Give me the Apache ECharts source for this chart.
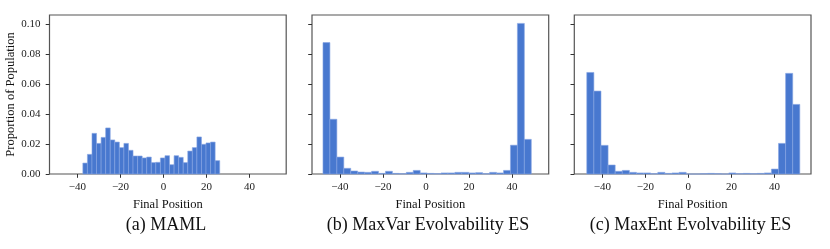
<!DOCTYPE html>
<html><head><meta charset="utf-8">
<script src="https://cdn.jsdelivr.net/npm/echarts@6/dist/echarts.min.js"></script>
<style>html,body{margin:0;padding:0;background:#fff}#c{width:830px;height:249px}</style>
</head><body><div id="c"></div>
<script>
// ---- data ----
const xTicks = [-40, -20, 0, 20, 40];
const yTicks = [0, 0.02, 0.04, 0.06, 0.08, 0.10];
const captions = ['(a) MAML', '(b) MaxVar Evolvability ES', '(c) MaxEnt Evolvability ES'];
// histogram bins: first edge and bin width (x units), 30 bins each
const mamlBinStart = -37.5, mamlBinWidth = 2.12;
const mamlValues = [0.0073,0.0131,0.0271,0.0204,0.0244,0.0307,0.0227,0.0213,0.0176,0.0204,
  0.0158,0.0120,0.0120,0.0107,0.0113,0.0076,0.0078,0.0107,0.0122,0.0062,
  0.0122,0.0111,0.0076,0.0153,0.0176,0.0247,0.0198,0.0207,0.0213,0.0089];
const maxVarBinStart = -47.9, maxVarBinWidth = 3.227;
const maxVarValues = [0.0876,0.0365,0.0113,0.0038,0.0020,0.0013,0.0011,0.0018,0.0004,0.0018,
  0.0004,0.0002,0.0011,0.0024,0.0007,0.0004,0.0002,0.0007,0.0007,0.0011,
  0.0011,0.0007,0.0009,0.0002,0.0011,0.0007,0.0024,0.0192,0.1004,0.0231];
const maxEntBinStart = -47.2, maxEntBinWidth = 3.3;
const maxEntValues = [0.0677,0.0553,0.0191,0.0060,0.0018,0.0024,0.0011,0.0007,0.0007,0.0002,
  0.0011,0.0004,0.0007,0.0011,0.0000,0.0000,0.0002,0.0004,0.0002,0.0000,
  0.0007,0.0002,0.0004,0.0002,0.0004,0.0007,0.0033,0.0204,0.0671,0.0464];

const panels = [
  {start: mamlBinStart, width: mamlBinWidth, values: mamlValues},
  {start: maxVarBinStart, width: maxVarBinWidth, values: maxVarValues},
  {start: maxEntBinStart, width: maxEntBinWidth, values: maxEntValues}
];

// ---- layout ----
const FONT = '"Liberation Serif", "DejaVu Serif", serif';
const gridLefts = [49.5, 312, 574.3];
const gridW = 236.7, gridTop = 15, gridH = 159;
const capX = [166, 428, 690.5];
const minus = v => (v < 0 ? '\u2212' + Math.abs(v) : String(v));

const chart = echarts.init(document.getElementById('c'), null, {renderer: 'canvas'});
const grid = [], xAxis = [], yAxis = [], series = [], graphic = [];
panels.forEach((p, i) => {
  grid.push({left: gridLefts[i], top: gridTop, width: gridW, height: gridH,
    show: true, borderColor: '#555', borderWidth: 1.2, backgroundColor: 'transparent', containLabel: false});
  xAxis.push({type: 'value', gridIndex: i, min: -53, max: 57,
    name: 'Final Position', nameLocation: 'middle', nameGap: 18,
    nameTextStyle: {fontFamily: FONT, fontSize: 12.5, color: '#111'},
    axisLine: {show: false, onZero: false}, splitLine: {show: false},
    axisTick: {show: true, inside: false, length: 3.8, customValues: xTicks, lineStyle: {color: '#333', width: 1}},
    axisLabel: {show: true, customValues: xTicks, margin: 8, fontFamily: FONT, fontSize: 11, color: '#222', formatter: minus}
  });
  yAxis.push({type: 'value', gridIndex: i, min: 0, max: 0.106,
    name: i === 0 ? 'Proportion of Population' : '', nameLocation: 'middle', nameGap: 31,
    nameTextStyle: {fontFamily: FONT, fontSize: 12.5, color: '#111'},
    axisLine: {show: false, onZero: false}, splitLine: {show: false},
    axisTick: {show: true, inside: false, length: 3.8, customValues: yTicks, lineStyle: {color: '#333', width: 1}},
    axisLabel: {show: i === 0, customValues: yTicks, margin: 9, fontFamily: FONT, fontSize: 11, color: '#222',
      formatter: v => v.toFixed(2)}
  });
  const data = p.values.map((v, k) => [p.start + k * p.width, p.start + (k + 1) * p.width, v]);
  series.push({type: 'custom', xAxisIndex: i, yAxisIndex: i, data: data,
    renderItem: (params, api) => {
      const a = api.coord([api.value(0), api.value(2)]);
      const b = api.coord([api.value(1), 0]);
      return {type: 'rect', shape: {x: a[0], y: a[1], width: b[0] - a[0], height: b[1] - a[1]},
        style: {fill: '#4878cf', stroke: '#86a5e2', lineWidth: 0.6}};
    }
  });
  graphic.push({type: 'text', x: capX[i], y: 225,
    style: {text: captions[i], fontFamily: FONT, fontSize: 18, fill: '#111', align: 'center', verticalAlign: 'middle'}});
});

chart.setOption({animation: false, grid, xAxis, yAxis, series, graphic});
</script></body></html>
